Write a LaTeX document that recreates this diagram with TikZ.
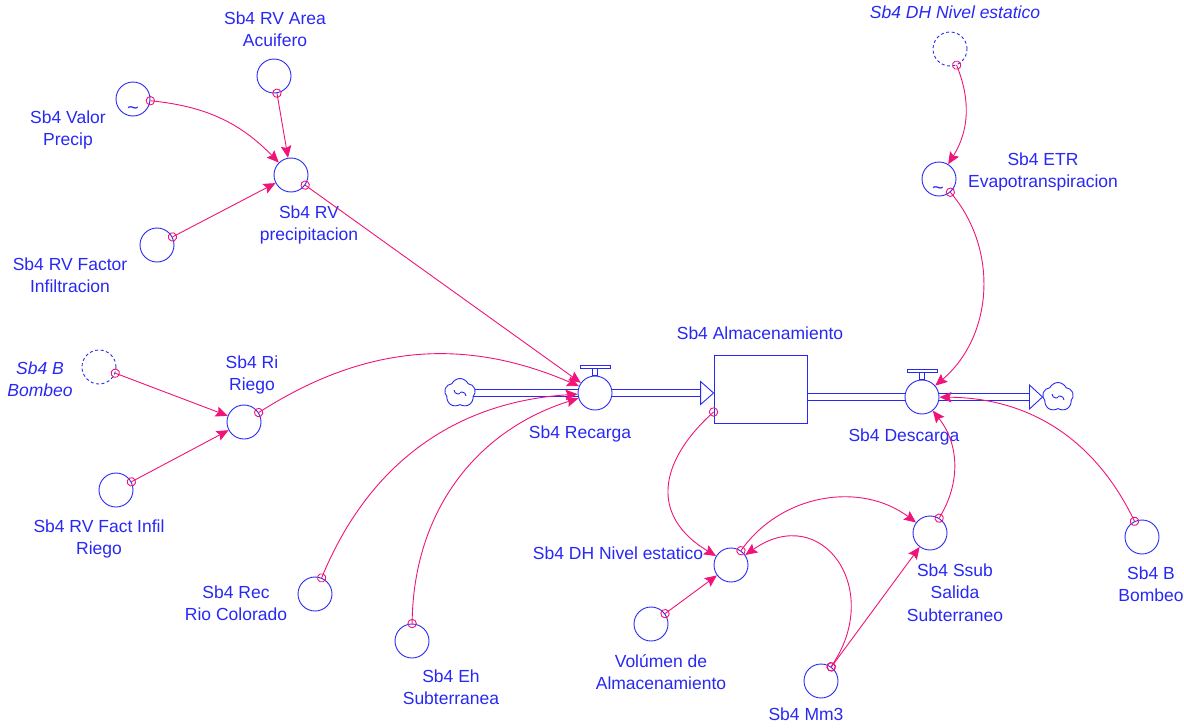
\documentclass[tikz,border=0pt]{standalone}
\usepackage{fontspec}
\setmainfont{Liberation Sans}
\usetikzlibrary{arrows.meta,shapes.symbols,calc,decorations.markings,backgrounds}
\definecolor{vblue}{RGB}{40,40,245}
\definecolor{vpink}{RGB}{240,20,120}
\begin{document}
\begin{tikzpicture}[x=1pt,y=1pt,
 aux/.style={circle, draw=vblue, line width=0.9pt, minimum size=34pt, inner sep=0pt, fill=white},
 ghost/.style={aux, dash pattern=on 3pt off 2.5pt},
 lbl/.style={text=vblue, font=\fontsize{17.5}{22.5}\selectfont, align=center, anchor=base, inner sep=0pt},
 glbl/.style={lbl, font=\fontsize{17.5}{22.5}\selectfont\itshape},
 link/.style={draw=vpink, line width=0.9pt, -{Stealth[length=12pt,width=10.5pt,inset=2pt]},
   postaction={decorate, decoration={markings, mark=at position 0 with {\draw[vpink, line width=0.9pt, -] (0,0) circle (4.2pt);}}}},
 valve/.style={circle, draw=vblue, line width=0.9pt, minimum size=34pt, fill=white, inner sep=0pt},
 handle/.style={draw=vblue, line width=0.9pt, fill=white},
 stockbox/.style={draw=vblue, line width=0.9pt, minimum width=93pt, minimum height=68pt, fill=white, inner sep=0pt},
 cloudy/.style={cloud, cloud puffs=5, cloud puff arc=130, draw=vblue, line width=0.9pt, minimum width=31pt, minimum height=29pt, inner sep=0pt, fill=white},
 pipe/.style={draw=vblue, line width=0.9pt, double=white, double distance=5.5pt},
 pipehead/.style={draw=vblue, line width=0.9pt, fill=white, line join=miter},
 swirl/.style={draw=vblue, line width=0.9pt},
 tld/.style={text=vblue, font=\fontsize{20}{20}\selectfont, inner sep=0pt}
]
\useasboundingbox (0,0) rectangle (1184,-728);

% variables
\node[aux] (area) at (274,-76) {};
\node[aux] (valor) at (133,-99) {};
\node[aux] (rvp) at (291,-175) {};
\node[aux] (factor) at (157,-245) {};
\node[ghost] (bombg) at (99,-367) {};
\node[aux] (riego) at (244,-422) {};
\node[aux] (fir) at (116,-490) {};
\node[aux] (rec) at (315,-594) {};
\node[aux] (eh) at (412,-641) {};
\node[cloudy] (cl) at (460,-393) {};
\node[valve] (recarga) at (595,-393) {};
\node[stockbox] (stock) at (760.5,-389) {};
\node[valve] (desc) at (922,-397) {};
\node[cloudy] (cr) at (1058,-397) {};
\node[ghost] (dhg) at (950,-49) {};
\node[aux] (etr) at (939,-179) {};
\node[aux] (dh) at (731,-565) {};
\node[aux] (vol) at (651,-624) {};
\node[aux] (ssub) at (930,-533) {};
\node[aux] (mm) at (821,-681) {};
\node[aux] (bomb) at (1142,-537) {};

% cloud swirls
\draw[swirl] ($(cl.center)+(-6,3)$) arc (180:300:4);
\draw[swirl] ($(cl.center)+(6,-3)$) arc (0:120:4);
\draw[swirl] ($(cr.center)+(-6,3)$) arc (180:300:4);
\draw[swirl] ($(cr.center)+(6,-3)$) arc (0:120:4);

% lookup marks
\node[tld] (tv) at ($(valor)+(0,-12)$) {\textasciitilde};
\node[tld] (te) at ($(etr)+(-1,-12)$) {\textasciitilde};

% pipes
\begin{pgfonlayer}{background}
\draw[pipe] (cl.center) -- ($(stock.west |- recarga)+(-13,0)$);
\draw[pipe] (stock.east |- desc) -- ($(cr.west |- desc)+(-13,0)$);
\end{pgfonlayer}
\draw[pipehead] ($(stock.west |- recarga)+(-13,11.5)$) -- (stock.west |- recarga) -- ($(stock.west |- recarga)+(-13,-11.5)$) -- cycle;
\draw[pipehead] ($(cr.west |- desc)+(-13,12)$) -- (cr.west |- desc) -- ($(cr.west |- desc)+(-13,-12)$) -- cycle;

% valve handles
\draw[handle] ($(recarga.north)+(-2.5,0)$) rectangle ($(recarga.north)+(2.5,7)$);
\draw[handle] ($(recarga.north)+(-15,7)$) rectangle ($(recarga.north)+(15,10)$);
\draw[handle] ($(desc.north)+(-2.5,0)$) rectangle ($(desc.north)+(2.5,7)$);
\draw[handle] ($(desc.north)+(-15,7)$) rectangle ($(desc.north)+(15,10)$);

% labels (base anchor = last line baseline)
\node[lbl] (l-area) at (275,-46.5) {Sb4 RV Area\\Acuifero};
\node[lbl] (l-valor) at (68,-145.5) {Sb4 Valor\\Precip};
\node[lbl] (l-rvp) at (309,-240.5) {Sb4 RV\\precipitacion};
\node[lbl] (l-factor) at (70,-292.5) {Sb4 RV Factor\\Infiltracion};
\node[glbl] (l-bombg) at (40,-396.5) {Sb4 B\\Bombeo};
\node[lbl] (l-riego) at (252,-390.5) {Sb4 Ri\\Riego};
\node[lbl] (l-fir) at (99,-554.5) {Sb4 RV Fact Infil\\Riego};
\node[lbl] (l-rec) at (236,-620.5) {Sb4 Rec\\Rio Colorado};
\node[lbl] (l-eh) at (451,-704.5) {Sb4 Eh\\Subterranea};
\node[lbl] (l-recarga) at (580,-438) {Sb4 Recarga};
\node[lbl] (l-stock) at (760,-339) {Sb4 Almacenamiento};
\node[lbl] (l-desc) at (904,-441) {Sb4 Descarga};
\node[glbl] (l-dhg) at (955,-19) {Sb4 DH Nivel estatico};
\node[lbl] (l-etr) at (1043,-187.5) {Sb4 ETR\\Evapotranspiracion};
\node[lbl] (l-dh) at (618,-559) {Sb4 DH Nivel estatico};
\node[lbl] (l-vol) at (661,-689.5) {Volúmen de\\Almacenamiento};
\node[lbl] (l-ssub) at (955,-621) {Sb4 Ssub\\Salida\\Subterraneo};
\node[lbl] (l-mm) at (806,-720) {Sb4 Mm3};
\node[lbl] (l-bomb) at (1151,-601.5) {Sb4 B\\Bombeo};

% connectors
\draw[link] (area) -- (rvp);
\draw[link] (valor) to[bend left=20] (rvp);
\draw[link] (factor) -- (rvp);
\draw[link] (rvp) -- (recarga);
\draw[link] (bombg) -- (riego);
\draw[link] (fir) -- (riego);
\draw[link] (riego) to[bend left=28] (recarga);
\draw[link] (rec) to[bend left=32] (recarga);
\draw[link] (eh) to[bend left=36] (recarga);
\coordinate (stko) at ($(stock.west)+(0,-23)$);
\draw[link] (stko) to[out=222,in=149,looseness=1.35] (dh);
\draw[link] (dh) to[bend left=46] (ssub);
\draw[link] (mm) to[out=55,in=35,looseness=1.7] (dh);
\draw[link] (mm) -- (ssub);
\draw[link] (vol) -- (dh);
\draw[link] (ssub) to[bend right=35] (desc);
\draw[link] (bomb) to[bend right=32] (desc);
\draw[link] (etr) to[bend left=45] (desc);
\draw[link] (dhg) to[bend left=27] (etr);
\end{tikzpicture}
\end{document}
